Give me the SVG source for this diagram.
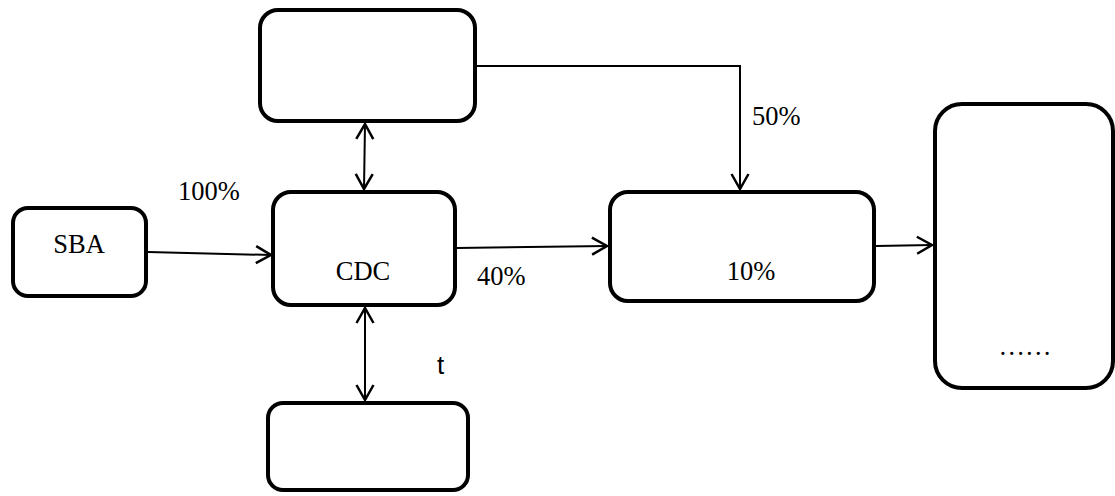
<svg xmlns="http://www.w3.org/2000/svg" width="1115" height="496" viewBox="0 0 1115 496">
  <style>
    .box { fill: #ffffff; stroke: #000000; stroke-width: 4; }
    .conn { fill: none; stroke: #000000; stroke-width: 2; }
    .lbl { font-family: "Liberation Serif", "Times New Roman", serif; font-size: 26.5px; fill: #000000; }
    .sans { font-family: "Liberation Sans", Arial, sans-serif; font-size: 26px; fill: #000000; }
  </style>
  <defs>
    <marker id="arr" markerUnits="userSpaceOnUse" markerWidth="24" markerHeight="24" viewBox="-20 -12 24 24" refX="0" refY="0" orient="auto-start-reverse">
      <path d="M-15,-8.5 L0,0 L-15,8.5" fill="none" stroke="#000000" stroke-width="2.5" stroke-linejoin="miter"/>
    </marker>
  </defs>
  <rect width="1115" height="496" fill="#ffffff"/>

  <g id="connectors">
    <line class="conn" x1="148" y1="252" x2="271" y2="255" marker-end="url(#arr)"/>
    <line class="conn" x1="457" y1="248" x2="607" y2="246" marker-end="url(#arr)"/>
    <line class="conn" x1="876" y1="246" x2="932" y2="245" marker-end="url(#arr)"/>
    <line class="conn" x1="365" y1="124" x2="364" y2="189" marker-start="url(#arr)" marker-end="url(#arr)"/>
    <line class="conn" x1="365" y1="308" x2="365" y2="400" marker-start="url(#arr)" marker-end="url(#arr)"/>
    <polyline class="conn" points="477,66 740,66 740,189" marker-end="url(#arr)"/>
  </g>

  <g id="node-sba">
    <rect class="box" x="13" y="208" width="133" height="88" rx="15" ry="15"/>
    <text class="lbl" x="79" y="253" text-anchor="middle">SBA</text>
  </g>
  <g id="node-top">
    <rect class="box" x="260" y="10" width="215" height="111" rx="18" ry="18"/>
  </g>
  <g id="node-cdc">
    <rect class="box" x="273" y="192" width="182" height="113" rx="18" ry="18"/>
    <text class="lbl" x="363" y="280" text-anchor="middle">CDC</text>
  </g>
  <g id="node-bottom">
    <rect class="box" x="268" y="403" width="200" height="87" rx="15" ry="15"/>
  </g>
  <g id="node-mid">
    <rect class="box" x="610" y="192" width="264" height="109" rx="18" ry="18"/>
    <text class="lbl" x="751" y="280" text-anchor="middle">10%</text>
  </g>
  <g id="node-right">
    <rect class="box" x="935" y="104" width="178" height="284" rx="27" ry="27"/>
    <text class="lbl" x="1025" y="355" text-anchor="middle">……</text>
  </g>

  <g id="labels">
    <text class="lbl" x="178" y="200">100%</text>
    <text class="lbl" x="477" y="285">40%</text>
    <text class="lbl" x="752" y="125">50%</text>
    <text class="sans" x="437" y="374">t</text>
  </g>
</svg>
